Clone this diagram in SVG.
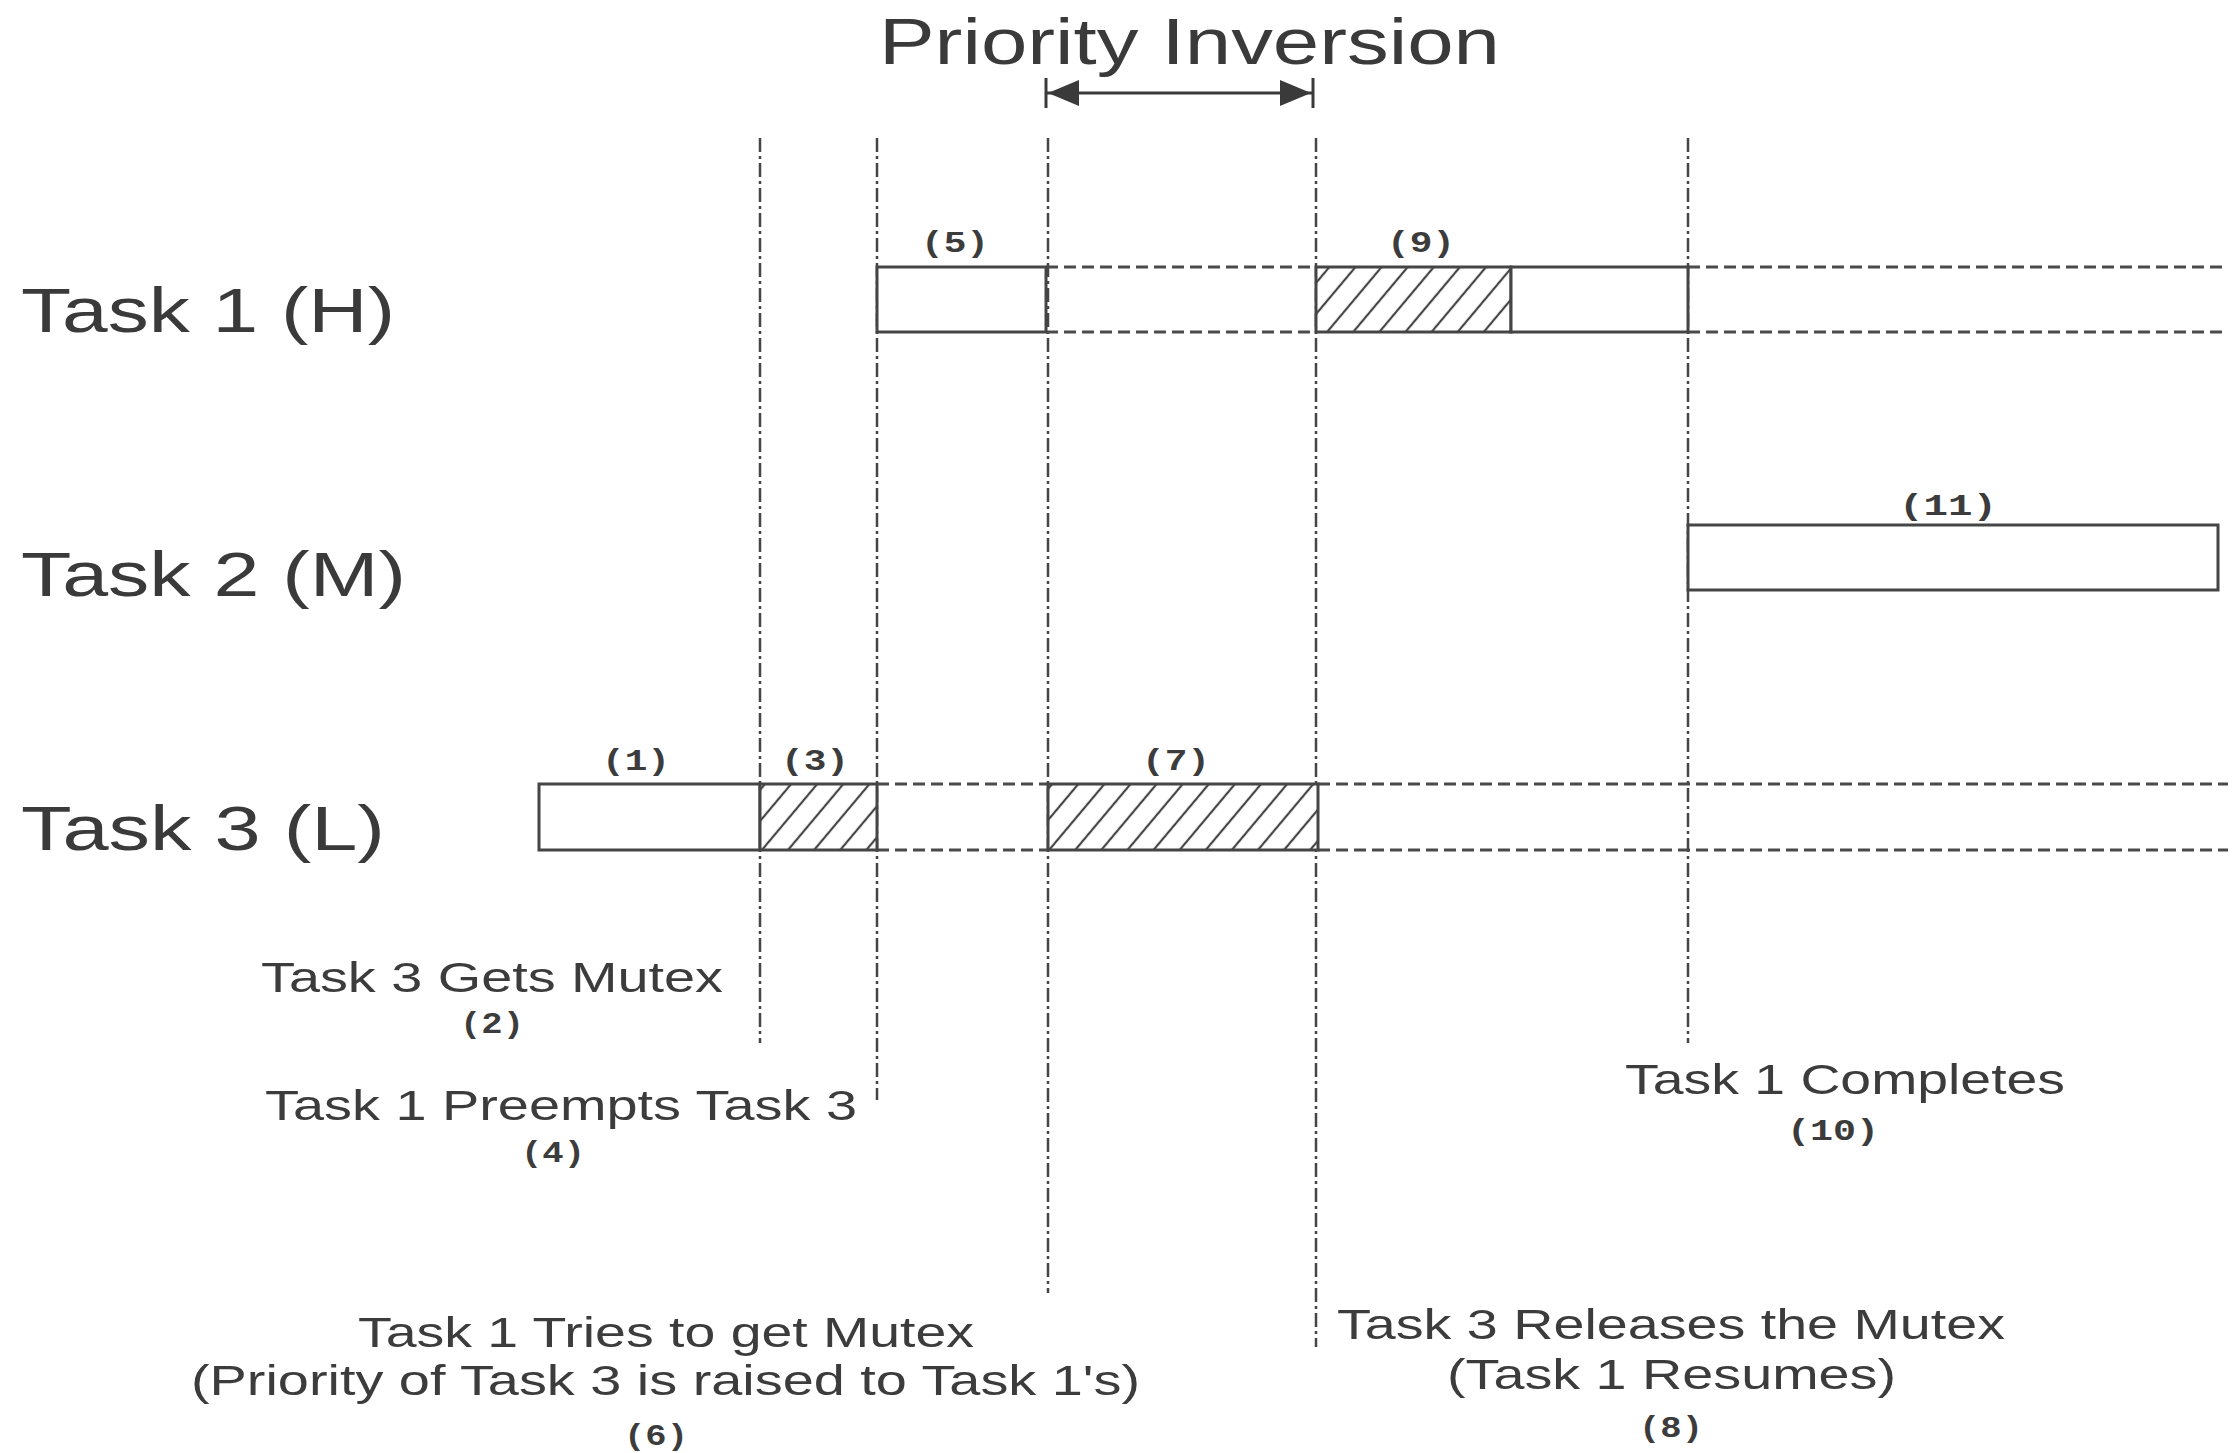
<svg xmlns="http://www.w3.org/2000/svg" width="2235" height="1453" viewBox="0 0 2235 1453">
<style>
.bg{fill:#ffffff}
.big{font-family:"Liberation Sans",Arial,sans-serif;fill:#3a3a3a}
.ann{font-family:"Liberation Sans",Arial,sans-serif;font-size:43px;fill:#3c3c3c}
.num{font-family:"Liberation Mono","Courier New",monospace;font-weight:bold;font-size:29px;fill:#3c3c3c;text-anchor:middle}
.box{fill:#ffffff;stroke:#454545;stroke-width:3}
.hbox{fill:url(#hatch);stroke:#454545;stroke-width:3}
.vline{stroke:#454545;stroke-width:2.5;stroke-dasharray:14 4 3 4;fill:none}
.hdash{stroke:#4a4a4a;stroke-width:3;stroke-dasharray:12 6;fill:none}
.arrow{stroke:#3a3a3a;stroke-width:3;fill:none}
</style>
<defs>
<pattern id="hatch" patternUnits="userSpaceOnUse" width="20" height="20" patternTransform="rotate(40)">
<rect width="20" height="20" fill="#ffffff"/>
<line x1="10" y1="0" x2="10" y2="20" stroke="#454545" stroke-width="2.2"/>
</pattern>
<marker id="ah" viewBox="0 0 36 30" refX="35" refY="15" markerWidth="36" markerHeight="30" markerUnits="userSpaceOnUse" orient="auto-start-reverse">
<path d="M1,2 L32,15 L1,28 Z" fill="#3a3a3a"/>
<path d="M34,0 V30" stroke="#3a3a3a" stroke-width="3"/>
</marker>
</defs>
<rect class="bg" x="0" y="0" width="2235" height="1453"/>

<g id="connectors">
<line class="vline" x1="760" y1="138" x2="760" y2="1043"/>
<line class="vline" x1="877" y1="138" x2="877" y2="1100"/>
<line class="vline" x1="1048" y1="138" x2="1048" y2="1293"/>
<line class="vline" x1="1316" y1="138" x2="1316" y2="1347"/>
<line class="vline" x1="1688" y1="138" x2="1688" y2="1043"/>
<line class="hdash" x1="1046" y1="267" x2="1316" y2="267"/>
<line class="hdash" x1="1046" y1="332" x2="1316" y2="332"/>
<line class="hdash" x1="1688" y1="267" x2="2228" y2="267"/>
<line class="hdash" x1="1688" y1="332" x2="2228" y2="332"/>
<line class="hdash" x1="877" y1="784" x2="1048" y2="784"/>
<line class="hdash" x1="877" y1="850" x2="1048" y2="850"/>
<line class="hdash" x1="1318" y1="784" x2="2228" y2="784"/>
<line class="hdash" x1="1318" y1="850" x2="2228" y2="850"/>
<line class="arrow" x1="1045" y1="93" x2="1314" y2="93" marker-start="url(#ah)" marker-end="url(#ah)"/>
</g>

<g id="title"><text class="big" x="879" y="64" font-size="65" textLength="621" lengthAdjust="spacingAndGlyphs">Priority Inversion</text></g>

<g id="task1-label"><text class="big" x="21" y="332" font-size="63" textLength="374" lengthAdjust="spacingAndGlyphs">Task 1 (H)</text></g>
<g id="task2-label"><text class="big" x="21" y="596" font-size="63" textLength="385" lengthAdjust="spacingAndGlyphs">Task 2 (M)</text></g>
<g id="task3-label"><text class="big" x="21" y="850" font-size="63" textLength="364" lengthAdjust="spacingAndGlyphs">Task 3 (L)</text></g>

<g id="seg5"><rect class="box" x="877" y="267" width="169" height="65"/><text class="num" x="955" y="252" textLength="68" lengthAdjust="spacingAndGlyphs">(5)</text></g>
<g id="seg9"><rect class="hbox" x="1316" y="267" width="195" height="65"/><rect class="box" x="1511" y="267" width="177" height="65"/><text class="num" x="1421" y="252" textLength="68" lengthAdjust="spacingAndGlyphs">(9)</text></g>
<g id="seg11"><rect class="box" x="1688" y="525" width="530" height="65"/><text class="num" x="1948" y="515" textLength="98" lengthAdjust="spacingAndGlyphs">(11)</text></g>
<g id="seg1"><rect class="box" x="539" y="784" width="221" height="66"/><text class="num" x="636" y="770" textLength="68" lengthAdjust="spacingAndGlyphs">(1)</text></g>
<g id="seg3"><rect class="hbox" x="760" y="784" width="117" height="66"/><text class="num" x="815" y="770" textLength="68" lengthAdjust="spacingAndGlyphs">(3)</text></g>
<g id="seg7"><rect class="hbox" x="1048" y="784" width="270" height="66"/><text class="num" x="1176" y="770" textLength="68" lengthAdjust="spacingAndGlyphs">(7)</text></g>

<g id="ev2"><text class="ann" x="261" y="992" textLength="462" lengthAdjust="spacingAndGlyphs">Task 3 Gets Mutex</text><text class="num" x="492" y="1033" textLength="64" lengthAdjust="spacingAndGlyphs">(2)</text></g>
<g id="ev4"><text class="ann" x="265" y="1120" textLength="592" lengthAdjust="spacingAndGlyphs">Task 1 Preempts Task 3</text><text class="num" x="553" y="1162" textLength="64" lengthAdjust="spacingAndGlyphs">(4)</text></g>
<g id="ev10"><text class="ann" x="1625" y="1094" textLength="440" lengthAdjust="spacingAndGlyphs">Task 1 Completes</text><text class="num" x="1833" y="1140" textLength="92" lengthAdjust="spacingAndGlyphs">(10)</text></g>
<g id="ev6"><text class="ann" x="358" y="1347" textLength="616" lengthAdjust="spacingAndGlyphs">Task 1 Tries to get Mutex</text><text class="ann" x="191" y="1395" textLength="949" lengthAdjust="spacingAndGlyphs">(Priority of Task 3 is raised to Task 1's)</text><text class="num" x="656" y="1445" textLength="64" lengthAdjust="spacingAndGlyphs">(6)</text></g>
<g id="ev8"><text class="ann" x="1337" y="1339" textLength="668" lengthAdjust="spacingAndGlyphs">Task 3 Releases the Mutex</text><text class="ann" x="1447" y="1389" textLength="449" lengthAdjust="spacingAndGlyphs">(Task 1 Resumes)</text><text class="num" x="1671" y="1437" textLength="64" lengthAdjust="spacingAndGlyphs">(8)</text></g>
</svg>
